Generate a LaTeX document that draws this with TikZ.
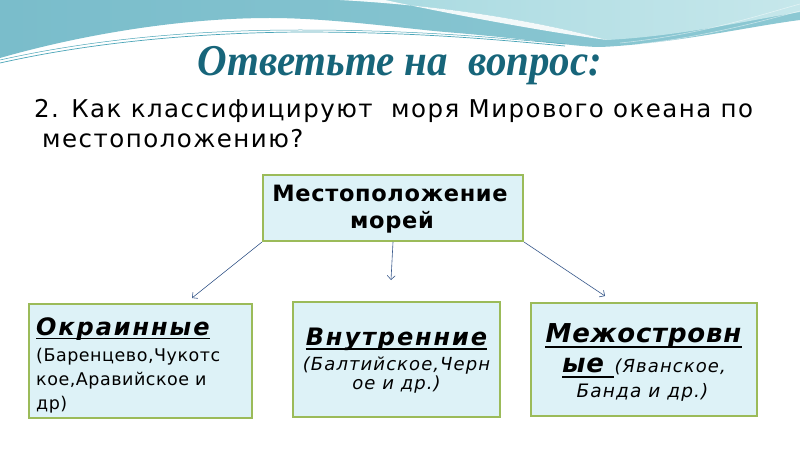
\documentclass[tikz,border=0pt]{standalone}
\usepackage{fontspec}
\usetikzlibrary{arrows.meta}
\setmainfont{DejaVu Sans}
\newfontfamily\qfont[LetterSpace=6]{DejaVu Sans}
\newfontfamily\topfont[LetterSpace=3]{DejaVu Sans}
\newfontfamily\headfont[LetterSpace=8]{DejaVu Sans}
\newfontfamily\rheadfont[LetterSpace=3]{DejaVu Sans}
\newfontfamily\lfont[LetterSpace=3]{DejaVu Sans}
\newfontfamily\mfont[LetterSpace=6]{DejaVu Sans}
\newfontfamily\titlefont[FakeStretch=0.93]{Liberation Serif}
\definecolor{titleteal}{HTML}{17657A}
\definecolor{boxfill}{HTML}{DDF2F7}
\definecolor{boxline}{HTML}{9BBB59}
\definecolor{arrowcol}{HTML}{3A5A8C}
\definecolor{tealA}{HTML}{7ABDCB}
\definecolor{tealB}{HTML}{8CC8D3}
\definecolor{tealL}{HTML}{A7D9E0}
\definecolor{tealLL}{HTML}{C6E7EB}
\definecolor{tealLine}{HTML}{4BA5B8}
\begin{document}
\begin{tikzpicture}[x=1pt,y=-1pt,
  box/.style={draw=boxline, line width=2pt, fill=boxfill, inner sep=0pt},
  txt/.style={inner sep=0pt, text=black},
  conn/.style={draw=arrowcol, line width=0.6pt, -{Straight Barb[length=4pt,width=8pt]}},
  uline/.style={line width=1.6pt, black}]
\useasboundingbox (0,0) rectangle (800,449);
\fill[white] (0,0) rectangle (800,449);
% waves
\shade[left color=tealA, right color=tealB]
  (0,0) -- (800,0) -- (800,20) .. controls (760,25) and (700,38) .. (640,44)
  .. controls (620,46) and (605,47) .. (597,47)
  .. controls (570,46) and (520,38) .. (445,32)
  .. controls (400,28) and (330,18) .. (270,18)
  .. controls (180,18) and (80,35) .. (0,58) -- cycle;
\shade[left color=tealL, right color=tealLL]
  (340,0) -- (800,0) -- (800,12) .. controls (740,22) and (680,36) .. (607,40)
  .. controls (540,22) and (450,6) .. (340,0) -- cycle;
\fill[white, opacity=0.9]
  (340,0) .. controls (450,6) and (540,22) .. (607,40)
  .. controls (540,31) and (450,14) .. (385,0) -- cycle;
\draw[tealLine, line width=0.7pt] (0,63) .. controls (80,45) and (180,33) .. (300,32)
  .. controls (420,32) and (500,40) .. (565,46);
\draw[tealLine, line width=0.5pt] (0,60) .. controls (80,42) and (180,30) .. (300,30)
  .. controls (420,30) and (500,38) .. (565,44);
\draw[white, opacity=0.5, line width=0.6pt] (620,43) .. controls (700,35) and (760,15) .. (800,4);
\draw[white, opacity=0.5, line width=0.6pt] (640,44) .. controls (710,36) and (765,20) .. (800,11);
% title
\node[txt, anchor=base, text=titleteal, font=\titlefont\bfseries\itshape\fontsize{44}{48}\selectfont] (title) at (400,76) {Ответьте на\ \ вопрос:};
% question
\node[txt, anchor=base west, font=\qfont\fontsize{24.5}{28}\selectfont] (q1) at (34,118) {2. Как классифицируют\ \ моря Мирового океана по};
\node[txt, anchor=base west, font=\qfont\fontsize{24.5}{28}\selectfont] (q2) at (42,148) {местоположению?};
% boxes
\node[box, minimum width=260pt, minimum height=66pt] (top) at (393,208) {};
\node[box, minimum width=223pt, minimum height=114pt] (left) at (140.5,361) {};
\node[box, minimum width=207pt, minimum height=115pt] (mid) at (396.5,359.5) {};
\node[box, minimum width=226pt, minimum height=113pt] (right) at (644,359.5) {};
% top box text
\node[txt, anchor=base, font=\topfont\bfseries\fontsize{22.5}{26}\selectfont] (t1) at (390,201) {Местоположение};
\node[txt, anchor=base, font=\topfont\bfseries\fontsize{22.5}{26}\selectfont] (t2) at (392,228) {морей};
% left box text
\node[txt, anchor=base west, font=\headfont\bfseries\itshape\fontsize{24}{28}\selectfont] (l1) at (36,335) {Окраинные};
\draw[uline] ([yshift=-3.5pt]l1.base west) -- ([yshift=-3.5pt]l1.base east);
\node[txt, anchor=base west, font=\lfont\fontsize{17.5}{21}\selectfont] (l2) at (36,361) {(Баренцево,Чукотс};
\node[txt, anchor=base west, font=\lfont\fontsize{17.5}{21}\selectfont] (l3) at (36,385) {кое,Аравийское и};
\node[txt, anchor=base west, font=\lfont\fontsize{17.5}{21}\selectfont] (l4) at (36,409) {др)};
% middle box text
\node[txt, anchor=base, font=\headfont\bfseries\itshape\fontsize{24}{28}\selectfont] (m1) at (396.5,345) {Внутренние};
\draw[uline] ([yshift=-4pt]m1.base west) -- ([yshift=-4pt]m1.base east);
\node[txt, anchor=base, font=\mfont\itshape\fontsize{18}{22}\selectfont] (m2) at (396.5,370) {(Балтийское,Черн};
\node[txt, anchor=base, font=\mfont\itshape\fontsize{18}{22}\selectfont] (m3) at (396.5,389) {ое и др.)};
% right box text
\node[txt, anchor=base, font=\rheadfont\bfseries\itshape\fontsize{26}{30}\selectfont] (r1) at (643.5,342) {Межостровн};
\draw[uline] ([yshift=-5pt]r1.base west) -- ([yshift=-5pt]r1.base east);
\node[txt, anchor=base west, font=\rheadfont\bfseries\itshape\fontsize{26}{30}\selectfont] (r2a) at (562,372) {ые\kern10pt};
\draw[uline] ([yshift=-5pt]r2a.base west) -- ([yshift=-5pt]r2a.base east);
\node[txt, anchor=base west, font=\mfont\itshape\fontsize{18}{22}\selectfont] (r2b) at (r2a.base east) {(Яванское,};
\node[txt, anchor=base, font=\mfont\itshape\fontsize{18.5}{22}\selectfont] (r3) at (642.5,397) {Банда и др.)};
% connectors
\coordinate (e1) at (192,298);
\coordinate (e2) at (391,280);
\coordinate (e3) at (605,296);
\draw[conn] (top.south west) -- (e1);
\draw[conn] (top.south) -- (e2);
\draw[conn] (top.south east) -- (e3);
\end{tikzpicture}
\end{document}
